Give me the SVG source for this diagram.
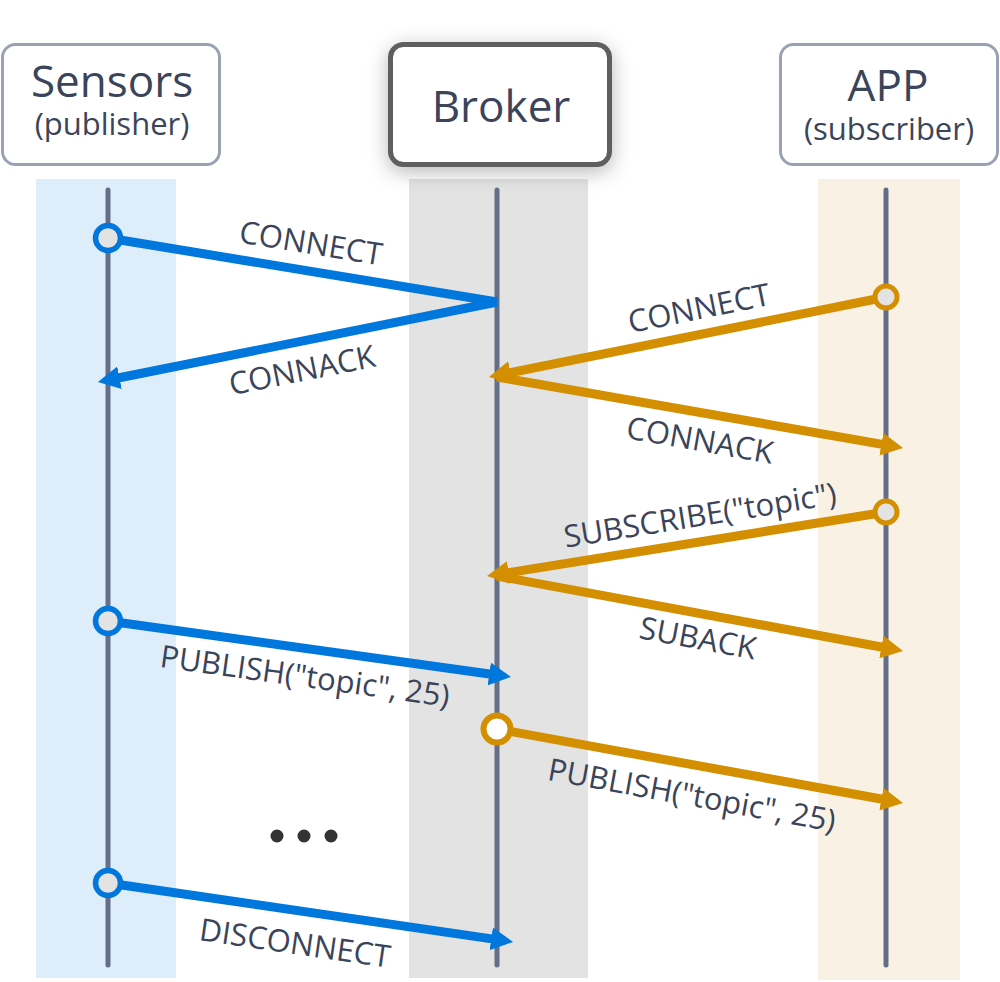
<svg xmlns="http://www.w3.org/2000/svg" width="1000" height="982" viewBox="0 0 1000 982">
<style>
.title{font-family:"Open Sans","Noto Sans","Liberation Sans",sans-serif;fill:#3b4459;text-anchor:middle}
.big{font-size:44px}
.sub{font-size:31px}
.lbl{font-family:"Open Sans","Noto Sans","Liberation Sans",sans-serif;font-size:31px;fill:#3b4459;text-anchor:middle}
.life{stroke:#646e89;stroke-width:5;stroke-linecap:round;fill:none}
.blue{stroke:#0077dd;stroke-width:9;fill:none;stroke-linecap:butt}
.orange{stroke:#d38f00;stroke-width:9;fill:none;stroke-linecap:butt}
.startb{fill:#e3e3e3;stroke:#0077dd;stroke-width:5.5}
.starto{fill:#e3e3e3;stroke:#d38f00;stroke-width:5}
.box{fill:#ffffff;stroke:#9aa1b5;stroke-width:3}
</style>
<defs>
<marker id="ab" viewBox="0 0 22 23" markerWidth="22" markerHeight="23" markerUnits="userSpaceOnUse" refX="4" refY="11.5" orient="auto">
<path d="M0,0 L22,11.5 L0,23 z" fill="#0077dd"/>
</marker>
<marker id="ao" viewBox="0 0 22 23" markerWidth="22" markerHeight="23" markerUnits="userSpaceOnUse" refX="4" refY="11.5" orient="auto">
<path d="M0,0 L22,11.5 L0,23 z" fill="#d38f00"/>
</marker>
<filter id="shadow" x="-30%" y="-40%" width="160%" height="190%">
<feDropShadow dx="0" dy="5" stdDeviation="10" flood-color="#000" flood-opacity="0.28"/>
</filter>
</defs>

<g id="lanes">
<rect x="36" y="179" width="140" height="799" fill="#ddedfa"/>
<rect x="409" y="179" width="179" height="799" fill="#e3e3e3"/>
<rect x="818" y="179" width="142" height="801" fill="#faf1e5"/>
<line class="life" x1="108" y1="190" x2="108" y2="965"/>
<line class="life" x1="497" y1="190" x2="497" y2="965"/>
<line class="life" x1="886" y1="190" x2="886" y2="965"/>
</g>

<g id="node-sensors">
<rect class="box" x="2.5" y="44.5" width="217" height="120" rx="13"/>
<text class="title big" x="112" y="97">Sensors</text>
<text class="title sub" x="112" y="135">(publisher)</text>
</g>

<g id="node-broker">
<rect x="390.5" y="44.5" width="219" height="120" rx="13" fill="#ffffff" stroke="#5e5e5e" stroke-width="5" filter="url(#shadow)"/>
<text class="title big" x="501" y="122">Broker</text>
</g>

<g id="node-app">
<rect class="box" x="780.5" y="44.5" width="217" height="120" rx="13"/>
<text class="title big" x="888" y="101">APP</text>
<text class="title sub" x="889" y="140">(subscriber)</text>
</g>

<g id="connectors">
<line class="blue" x1="108" y1="238" x2="497" y2="302" stroke-linecap="round"/>
<line class="blue" x1="497" y1="302" x2="115.6" y2="378.5" stroke-linecap="round" marker-end="url(#ab)"/>
<line class="orange" x1="886" y1="297" x2="506.6" y2="373.4" marker-end="url(#ao)"/>
<line class="orange" x1="497" y1="377" x2="885.3" y2="444.9" marker-end="url(#ao)"/>
<line class="orange" x1="886" y1="512" x2="504.8" y2="573.2" marker-end="url(#ao)"/>
<line class="orange" x1="497" y1="576" x2="885.3" y2="647.7" marker-end="url(#ao)"/>
<line class="blue" x1="108" y1="621" x2="493.2" y2="674.5" marker-end="url(#ab)"/>
<line class="orange" x1="497" y1="729" x2="885.3" y2="799.8" marker-end="url(#ao)"/>
<line class="blue" x1="108" y1="883" x2="495.2" y2="939.4" marker-end="url(#ab)"/>
<circle class="startb" cx="108" cy="238" r="12.5"/>
<circle class="starto" cx="886" cy="297" r="11"/>
<circle class="starto" cx="886" cy="512" r="11"/>
<circle class="startb" cx="108" cy="621" r="12.5"/>
<circle cx="497" cy="729" r="13.5" fill="#ffffff" stroke="#d38f00" stroke-width="6"/>
<circle class="startb" cx="108" cy="883" r="12.5"/>

<text class="lbl" transform="translate(311,243) rotate(9.3)" y="11">CONNECT</text>
<text class="lbl" transform="translate(302,370) rotate(-11.3)" y="11">CONNACK</text>
<text class="lbl" transform="translate(699,308) rotate(-11.4)" y="11">CONNECT</text>
<text class="lbl" transform="translate(700,440) rotate(10)" y="11">CONNACK</text>
<text class="lbl" transform="translate(700,515) rotate(-9.1)" y="11">SUBSCRIBE("topic")</text>
<text class="lbl" transform="translate(698,638) rotate(10.5)" y="11">SUBACK</text>
<text class="lbl" transform="translate(305,676) rotate(7.9)" y="11">PUBLISH("topic", 25)</text>
<text class="lbl" transform="translate(692,795) rotate(10.3)" y="11">PUBLISH("topic", 25)</text>
<text class="lbl" transform="translate(295,943) rotate(8.3)" y="11">DISCONNECT</text>
</g>

<g id="ellipsis" fill="#333333">
<circle cx="277" cy="836" r="6.5"/>
<circle cx="304" cy="836" r="6.5"/>
<circle cx="331" cy="836" r="6.5"/>
</g>
</svg>
